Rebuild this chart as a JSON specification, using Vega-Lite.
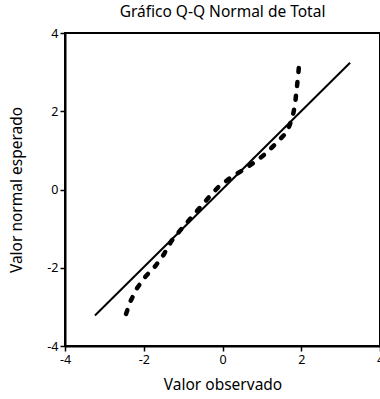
{
  "$schema": "https://vega.github.io/schema/vega-lite/v6.json",
  "width": 315,
  "height": 313,
  "autosize": "none",
  "padding": {"left": 65, "top": 33, "right": 0, "bottom": 53},
  "background": "white",
  "title": {"text": "Gráfico Q-Q Normal de Total", "fontSize": 15.5, "fontWeight": "normal", "font": "Noto Sans", "color": "black", "offset": 7, "frame": "group"},
  "config": {
    "view": {"stroke": "black", "strokeWidth": 2},
    "axis": {
      "grid": false,
      "domainColor": "black",
      "domainWidth": 2,
      "tickColor": "black",
      "tickWidth": 1.5,
      "tickSize": 5,
      "labelFont": "Noto Sans",
      "labelFontSize": 12.5,
      "labelColor": "black",
      "labelFlush": false,
      "labelOverlap": false,
      "titleFont": "Noto Sans",
      "titleFontSize": 15.5,
      "titleFontWeight": "normal",
      "titleColor": "black",
      "labelPadding": 2,
      "labelExpr": "'' + datum.value"
    }
  },
  "datasets": {
    "curve": [
      {"obs": -2.45, "exp": -3.18},
      {"obs": -2.34, "exp": -2.86},
      {"obs": -2.17, "exp": -2.52},
      {"obs": -1.96, "exp": -2.23},
      {"obs": -1.70, "exp": -1.95},
      {"obs": -1.49, "exp": -1.66},
      {"obs": -1.30, "exp": -1.32},
      {"obs": -1.07, "exp": -1.04},
      {"obs": -0.83, "exp": -0.76},
      {"obs": -0.58, "exp": -0.47},
      {"obs": -0.34, "exp": -0.19},
      {"obs": -0.09, "exp": 0.08},
      {"obs": 0.20, "exp": 0.30},
      {"obs": 0.51, "exp": 0.49},
      {"obs": 0.82, "exp": 0.70},
      {"obs": 1.10, "exp": 0.92},
      {"obs": 1.37, "exp": 1.19},
      {"obs": 1.63, "exp": 1.46},
      {"obs": 1.77, "exp": 1.81},
      {"obs": 1.84, "exp": 2.15},
      {"obs": 1.88, "exp": 2.53},
      {"obs": 1.92, "exp": 2.90},
      {"obs": 1.95, "exp": 3.25}
    ],
    "ref": [
      {"obs": -3.24, "exp": -3.22},
      {"obs": 3.24, "exp": 3.24}
    ]
  },
  "layer": [
    {
      "data": {"name": "ref"},
      "mark": {"type": "line", "color": "black", "strokeWidth": 2},
      "encoding": {
        "x": {"field": "obs", "type": "quantitative", "scale": {"domain": [-4, 4], "nice": false, "zero": false}, "axis": {"values": [-4, -2, 0, 2, 4], "title": "Valor observado", "titlePadding": 12}},
        "y": {"field": "exp", "type": "quantitative", "scale": {"domain": [-4, 4], "nice": false, "zero": false}, "axis": {"values": [-4, -2, 0, 2, 4], "title": "Valor normal esperado", "titlePadding": 22}}
      }
    },
    {
      "data": {"name": "curve"},
      "mark": {"type": "line", "color": "black", "strokeWidth": 4.5, "strokeDash": [4, 10], "strokeCap": "round"},
      "encoding": {
        "x": {"field": "obs", "type": "quantitative"},
        "y": {"field": "exp", "type": "quantitative"}
      }
    }
  ]
}
